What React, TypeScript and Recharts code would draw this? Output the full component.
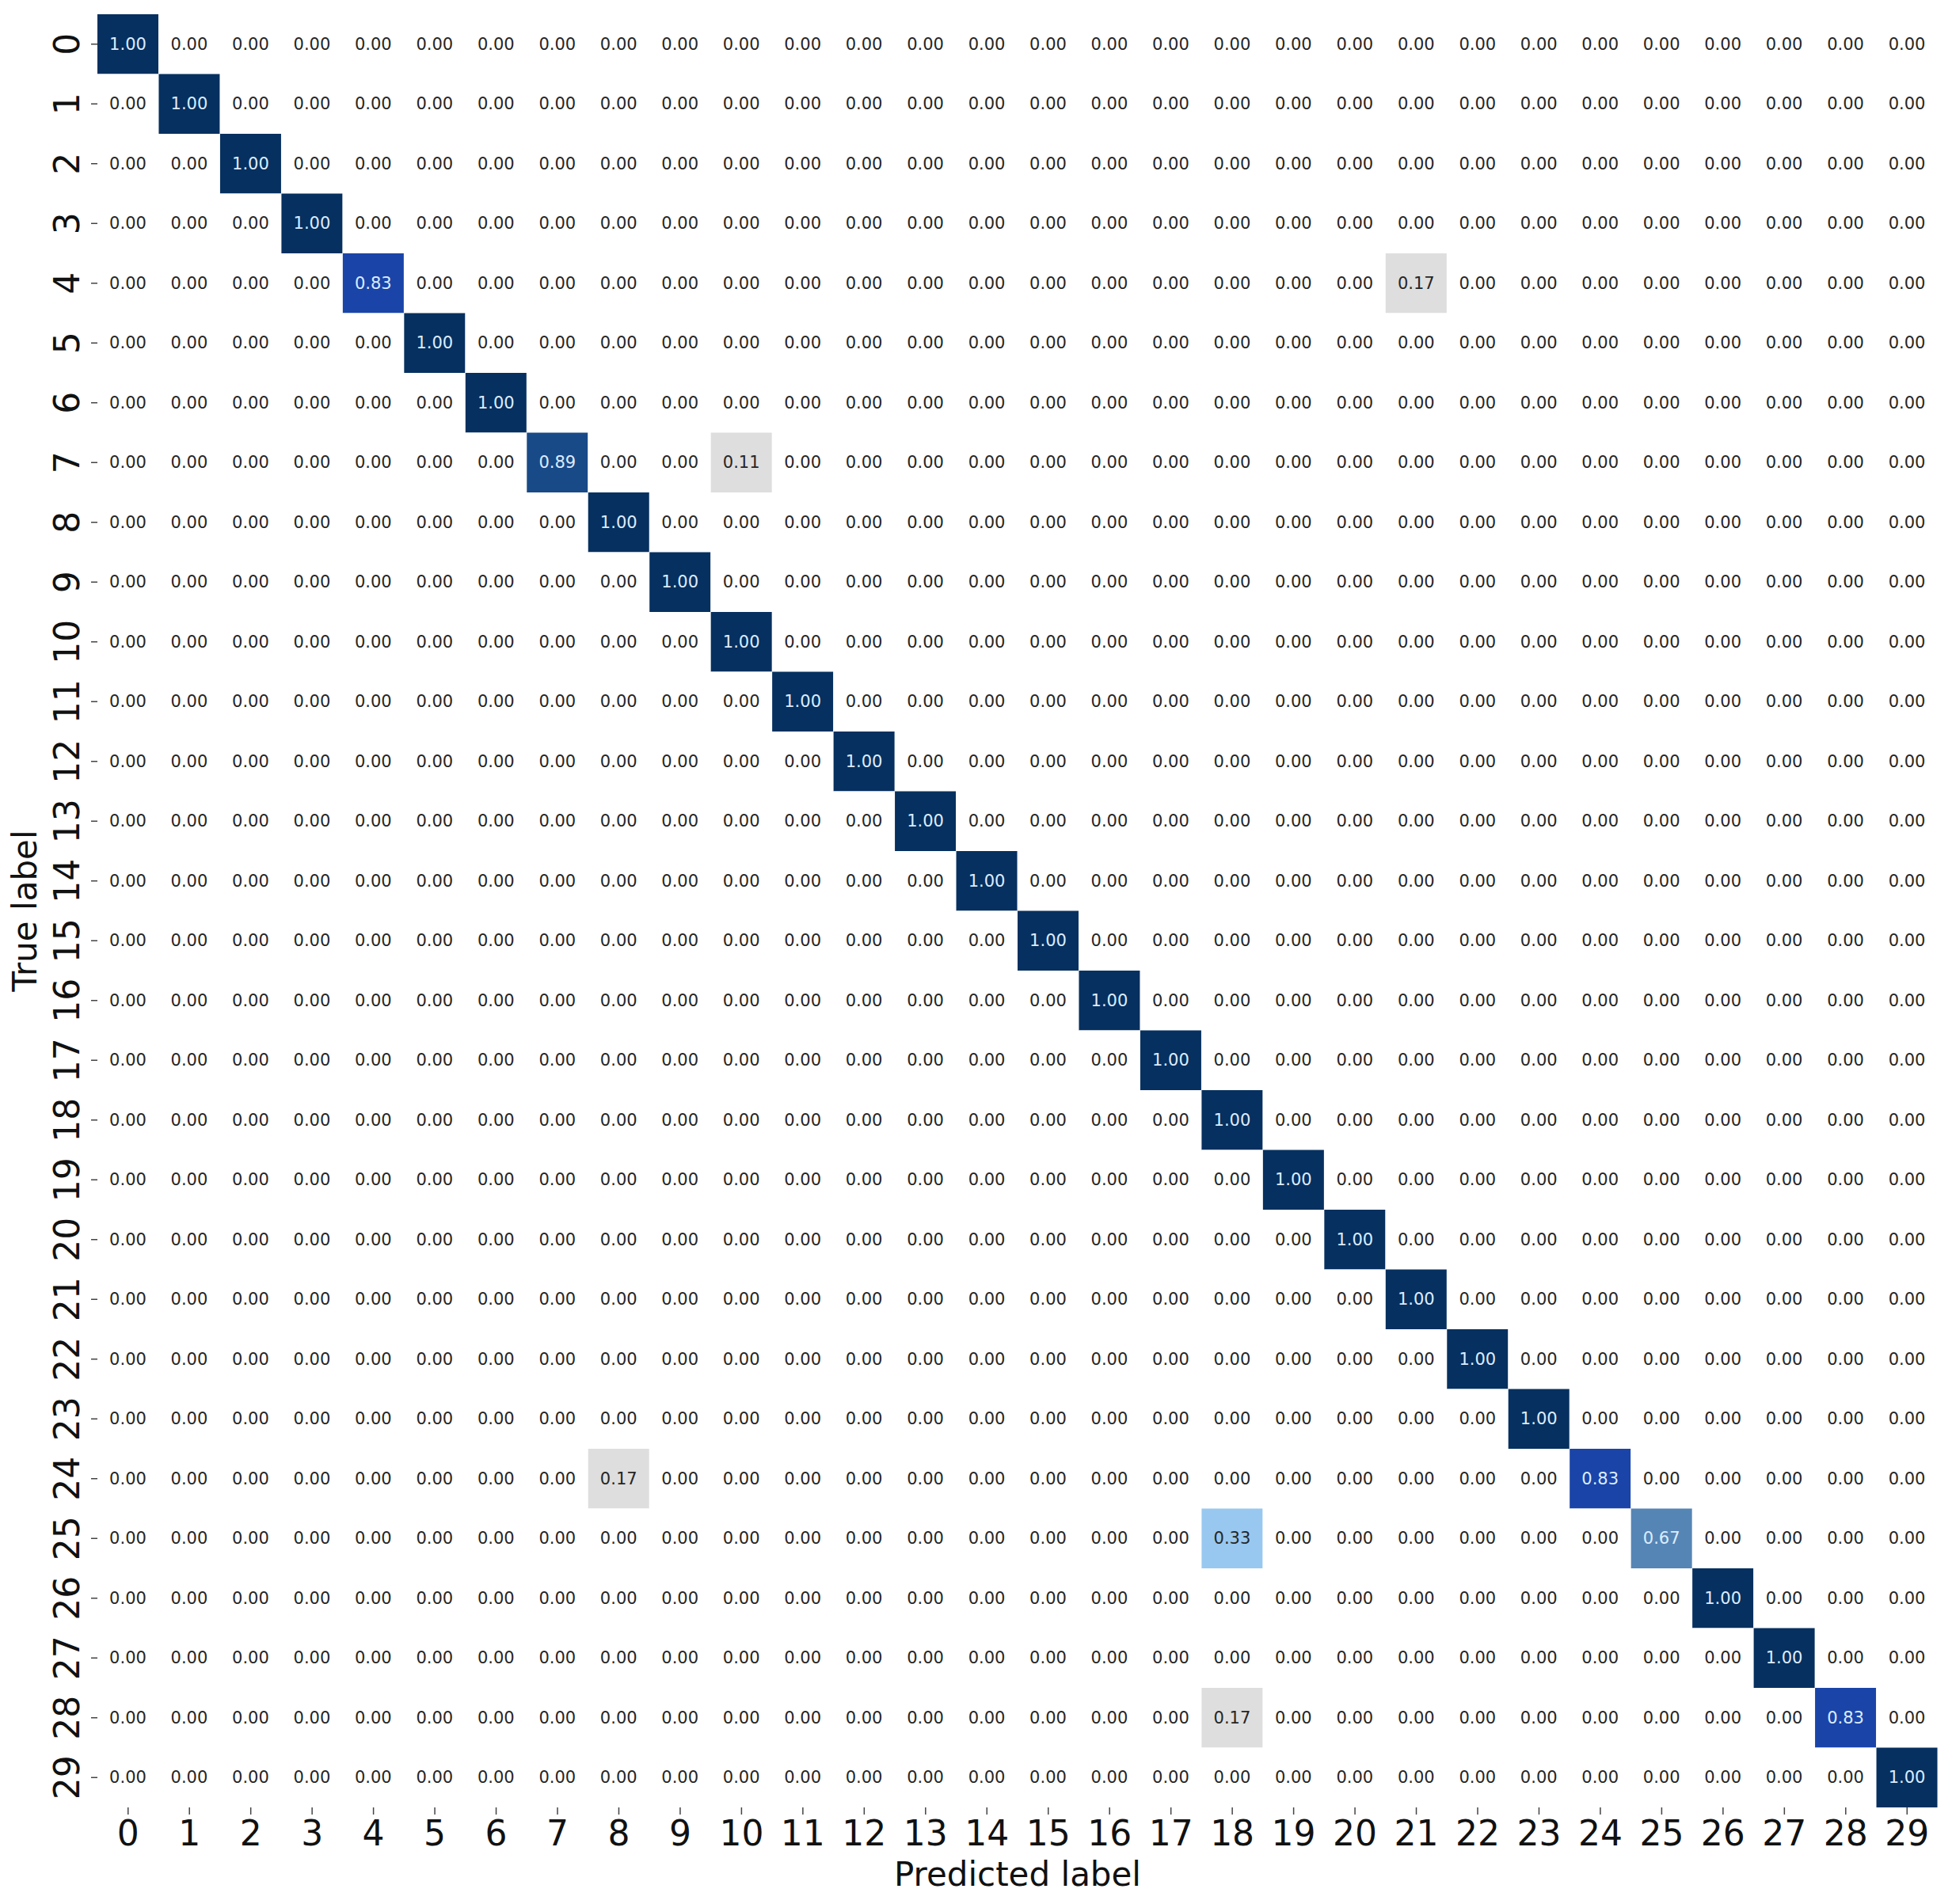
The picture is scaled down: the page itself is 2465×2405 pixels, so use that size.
import React from 'react';
import { BarChart, Bar, XAxis, YAxis, Cell, LabelList, Label } from 'recharts';

// class ids shown on both axes
const CLASSES = [0, 1, 2, 3, 4, 5, 6, 7, 8, 9, 10, 11, 12, 13, 14, 15, 16, 17, 18, 19, 20, 21, 22, 23, 24, 25, 26, 27, 28, 29];

// normalized hits on the diagonal (row = true label)
const DIAGONAL = [
  1.0, 1.0, 1.0, 1.0, 0.83, 1.0, 1.0, 0.89, 1.0, 1.0,
  1.0, 1.0, 1.0, 1.0, 1.0, 1.0, 1.0, 1.0, 1.0, 1.0,
  1.0, 1.0, 1.0, 1.0, 0.83, 0.67, 1.0, 1.0, 0.83, 1.0,
];

// the few misclassifications
const OFF_ROWS = [4, 7, 24, 25, 28];
const OFF_COLS = [21, 10, 8, 18, 18];
const OFF_VALUES = [0.17, 0.11, 0.17, 0.33, 0.17];

const matrix: number[][] = CLASSES.map((r) => CLASSES.map((c) => (r === c ? DIAGONAL[r] : 0)));
OFF_ROWS.forEach((r, i) => {
  matrix[r][OFF_COLS[i]] = OFF_VALUES[i];
});

// one entry per predicted column, one stacked unit per true row
const data = CLASSES.map((c) => {
  const o: Record<string, any> = { label: String(c) };
  CLASSES.forEach((r) => {
    o[`h${r}`] = 1;
    o[`v${r}`] = matrix[r][c];
  });
  return o;
});

const FONT = 'DejaVu Sans, Liberation Sans, sans-serif';

const colorFor = (v: number) => {
  if (v >= 0.95) return '#06305f';
  if (v >= 0.86) return '#194a88';
  if (v >= 0.75) return '#1a44a8';
  if (v >= 0.5) return '#5585b5';
  if (v >= 0.25) return '#98c8f0';
  if (v > 0.05) return '#dedede';
  return '#ffffff';
};

const CellLabel = (props: any) => {
  const box = props.viewBox && props.viewBox.width != null ? props.viewBox : props;
  const { x, y, width, height } = box;
  const v = Number(props.value);
  return (
    <text
      x={x + width / 2}
      y={y + height / 2}
      textAnchor="middle"
      dominantBaseline="central"
      fontSize={21}
      fontFamily={FONT}
      fill={v >= 0.5 ? '#dcecff' : '#262626'}
    >
      {v.toFixed(2)}
    </text>
  );
};

const XTick = (props: any) => (
  <text x={props.x} y={props.y + 19} textAnchor="middle" dominantBaseline="central" fontSize={44} fontFamily={FONT} fill="#111">
    {props.payload.value}
  </text>
);

const YTick = (props: any) => {
  const cx = props.x - 27;
  return (
    <text
      x={cx}
      y={props.y}
      transform={`rotate(-90, ${cx}, ${props.y})`}
      textAnchor="middle"
      dominantBaseline="central"
      fontSize={44}
      fontFamily={FONT}
      fill="#111"
    >
      {String(props.payload.value - 0.5)}
    </text>
  );
};

export default function App() {
  return (
    <div style={{ position: 'absolute', left: 0, top: 0, background: '#fff' }}>
      <BarChart
        width={2465}
        height={2405}
        data={data}
        margin={{ top: 18, right: 18, left: 0, bottom: 0 }}
        barCategoryGap={0}
        barGap={0}
      >
        <XAxis
          dataKey="label"
          height={122}
          interval={0}
          axisLine={false}
          tickSize={9}
          tickMargin={4}
          tickLine={{ stroke: '#444', strokeWidth: 1.5 }}
          tick={<XTick />}
        >
          <Label
            content={(p: any) => (
              <text
                x={p.viewBox.x + p.viewBox.width / 2}
                y={p.viewBox.y + 84}
                textAnchor="middle"
                dominantBaseline="central"
                fontSize={42}
                fontFamily={FONT}
                fill="#111"
              >
                Predicted label
              </text>
            )}
          />
        </XAxis>
        <YAxis
          type="number"
          domain={[0, 30]}
          reversed
          width={123}
          ticks={CLASSES.map((c) => c + 0.5)}
          interval={0}
          axisLine={false}
          tickSize={8}
          tickMargin={4}
          tickLine={{ stroke: '#444', strokeWidth: 1.5 }}
          tick={<YTick />}
        >
          <Label
            content={(p: any) => {
              const cy = p.viewBox.y + p.viewBox.height / 2;
              return (
                <text
                  x={31}
                  y={cy}
                  transform={`rotate(-90, 31, ${cy})`}
                  textAnchor="middle"
                  dominantBaseline="central"
                  fontSize={42}
                  fontFamily={FONT}
                  fill="#111"
                >
                  True label
                </text>
              );
            }}
          />
        </YAxis>
        {CLASSES.map((r) => (
          <Bar key={r} dataKey={`h${r}`} stackId="cm" isAnimationActive={false}>
            {data.map((_, c) => (
              <Cell key={c} fill={colorFor(matrix[r][c])} />
            ))}
            <LabelList dataKey={`v${r}`} content={<CellLabel />} />
          </Bar>
        ))}
      </BarChart>
    </div>
  );
}
